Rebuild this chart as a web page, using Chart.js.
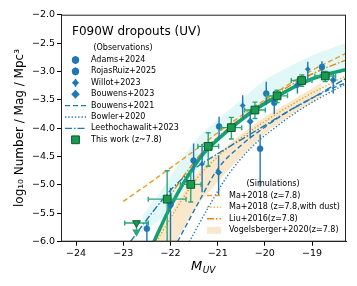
<!DOCTYPE html>
<html>
<head>
<meta charset="utf-8">
<script src="https://cdn.jsdelivr.net/npm/chart.js@4.4.1/dist/chart.umd.min.js"></script>
<style>
html, body { margin: 0; padding: 0; background: #fff; }
#wrap { width: 357px; height: 286px; }
</style>
</head>
<body>
<div id="wrap"><canvas id="c" width="357" height="286"></canvas></div>
<script>
// ===== Axis ticks =====
const xTicks = [-24, -23, -22, -21, -20, -19];
const yTicks = [-6.0, -5.5, -5.0, -4.5, -4.0, -3.5, -3.0, -2.5, -2.0];

// ===== Observations (points) =====
const adamsM = [-22.5, -22.0, -20.1, -19.8];
const adamsY = [-5.77, -5.35, -4.36, -3.55];
const adamsLo = [0.4, 0.7, 0.67, 0.2];
const adamsHi = [0.12, 0.3, 0.25, 0.2];

const rojasM = [-21.51, -20.97, -19.97, -18.79];
const rojasY = [-4.57, -3.97, -3.39, -2.92];
const rojasLo = [0.35, 0.24, 0.2, 0.12];
const rojasHi = [0.3, 0.17, 0.21, 0.1];

const willotM = [-21.33, -20.47, -19.09];
const willotY = [-4.63, -3.6, -2.96];
const willotLo = [0.5, 0.23, 0.18];
const willotHi = [0.35, 0.18, 0.13];

const bouw23M = [-20.98, -20.31, -19.31, -18.55];
const bouw23Y = [-4.78, -3.88, -3.24, -3.15];
const bouw23Lo = [0.4, 0.3, 0.15, 0.24];
const bouw23Hi = [0.3, 0.2, 0.12, 0.12];

// ===== Observations (fits) =====
const bouw21M = [-21.85, -21.4, -21.0, -20.5, -20.0, -19.5, -19.0, -18.5, -18.28];
const bouw21Y = [-6.0, -5.3, -4.72, -4.3, -3.98, -3.7, -3.47, -3.27, -3.2];
const bowlerM = [-21.6, -21.2, -20.8, -20.3, -19.8, -19.3, -18.8, -18.28];
const bowlerY = [-6.0, -5.4, -4.85, -4.35, -4.0, -3.7, -3.45, -3.22];
const leethoM = [-22.85, -22.4, -21.95, -21.5, -21.0, -20.5, -20.0, -19.5, -19.0, -18.28];
const leethoY = [-6.0, -5.5, -5.05, -4.72, -4.45, -4.2, -3.95, -3.7, -3.47, -3.12];

// ===== This work =====
const thisM = [-22.07, -21.57, -21.2, -20.71, -20.21, -19.74, -19.22, -18.72];
const thisY = [-5.25, -4.99, -4.32, -3.99, -3.68, -3.43, -3.16, -3.08];
const thisXerr = [0.4, 0.22, 0.22, 0.22, 0.22, 0.22, 0.22, 0.22];
const thisLo = [0.9, 0.31, 0.35, 0.2, 0.15, 0.12, 0.1, 0.1];
const thisHi = [0.5, 0.22, 0.24, 0.18, 0.14, 0.1, 0.1, 0.08];
const limM = [-22.72];
const limY = [-5.67];
const limXerr = [0.25];
const fitM = [-22.35, -22.1, -21.85, -21.6, -21.3, -21.0, -20.6, -20.2, -19.7, -19.2, -18.7, -18.28];
const fitY = [-6.0, -5.55, -5.15, -4.8, -4.45, -4.2, -3.92, -3.67, -3.42, -3.2, -3.05, -2.97];
const cloudM = [-22.6, -22.2, -21.8, -21.4, -21.0, -20.5, -20.0, -19.5, -19.0, -18.28];
const cloudHi = [-5.55, -5.1, -4.6, -4.15, -3.85, -3.5, -3.15, -2.92, -2.72, -2.5];
const cloudLo = [-5.8, -5.6, -5.2, -4.7, -4.3, -3.9, -3.6, -3.35, -3.15, -2.95];

// ===== Simulations =====
const maM = [-23.0, -22.5, -22.0, -21.5, -21.0, -20.5, -20.0, -19.5, -19.0, -18.28];
const maY = [-5.29, -5.0, -4.7, -4.4, -4.08, -3.78, -3.5, -3.23, -2.98, -2.68];
const maDustM = [-22.3, -21.9, -21.5, -21.0, -20.5, -20.0, -19.5, -19.0, -18.5, -18.28];
const maDustY = [-6.0, -5.45, -4.95, -4.5, -4.17, -3.88, -3.62, -3.38, -3.17, -3.08];
const liuM = [-22.05, -21.7, -21.3, -20.8, -20.3, -19.8, -19.3, -18.8, -18.28];
const liuY = [-5.25, -4.82, -4.4, -4.02, -3.7, -3.42, -3.17, -2.97, -2.8];
const vogM = [-22.5, -22.0, -21.5, -21.0, -20.5, -20.0, -19.5, -19.0, -18.8];
const vogHi = [-6.2, -5.5, -4.85, -4.45, -4.1, -3.8, -3.55, -3.3, -3.2];
const vogLo = [-6.6, -6.15, -5.45, -4.95, -4.5, -4.1, -3.8, -3.55, -3.45];

const BLUE = '#1f77b4';
const GREEN = '#14a072';
const ORANGE = '#e89f1c';
const FONT = '"DejaVu Sans"';

const pts = (xs, ys) => xs.map((x, i) => ({ x: x, y: ys[i] }));
const minus = v => String(v).replace('-', '\u2212');

function lineDs(xs, ys, color, width, dash, order, legend) {
    return {
        data: pts(xs, ys), showLine: true, borderColor: color, borderWidth: width,
        borderDash: dash, pointRadius: 0, fill: false, order: order,
        cubicInterpolationMode: 'monotone', legend: legend
    };
}
function pointDs(xs, ys, lo, hi, style, r, order, legend) {
    return {
        data: pts(xs, ys), showLine: false, pointStyle: style, pointRadius: r,
        backgroundColor: BLUE, borderColor: BLUE, borderWidth: 0.5, order: order,
        err: { lo: lo, hi: hi, color: BLUE, cap: 0 }, legend: legend
    };
}

const datasets = [
    { data: pts(thisM, thisY), showLine: false, pointStyle: 'rect', pointRadius: 5.5,
      backgroundColor: '#1a9a52', borderColor: '#0a5a2c', borderWidth: 1, order: 0,
      err: { lo: thisLo, hi: thisHi, xerr: thisXerr, color: '#2aa878', cap: 2.5 },
      legend: { box: 'obs', row: 7, label: 'This work (z~7.8)' } },
    { data: pts(limM, limY), showLine: false, pointStyle: 'triangle', rotation: 180, pointRadius: 4.5,
      backgroundColor: '#1a9a52', borderColor: '#0a5a2c', borderWidth: 1, order: 1,
      err: { xerr: limXerr, color: '#2aa878', cap: 2.5, arrow: 0.2 } },
    pointDs(adamsM, adamsY, adamsLo, adamsHi, 'circle', 3, 2, { box: 'obs', row: 0, label: 'Adams+2024' }),
    pointDs(rojasM, rojasY, rojasLo, rojasHi, 'circle', 3, 3, { box: 'obs', row: 1, label: 'RojasRuiz+2025' }),
    pointDs(willotM, willotY, willotLo, willotHi, 'rectRot', 2.6, 4, { box: 'obs', row: 2, label: 'Willot+2023' }),
    pointDs(bouw23M, bouw23Y, bouw23Lo, bouw23Hi, 'rectRot', 3.3, 5, { box: 'obs', row: 3, label: 'Bouwens+2023' }),
    lineDs(fitM, fitY, GREEN, 3.5, [], 6),
    lineDs(bouw21M, bouw21Y, BLUE, 1.4, [5, 3], 7, { box: 'obs', row: 4, label: 'Bouwens+2021' }),
    lineDs(bowlerM, bowlerY, BLUE, 1.4, [1.3, 2], 8, { box: 'obs', row: 5, label: 'Bowler+2020' }),
    lineDs(leethoM, leethoY, BLUE, 1.4, [7, 2, 1.5, 2], 9, { box: 'obs', row: 6, label: 'Leethochawalit+2023' }),
    lineDs(maM, maY, ORANGE, 1.4, [5, 3], 10, { box: 'sim', row: 0, label: 'Ma+2018 (z=7.8)' }),
    lineDs(maDustM, maDustY, ORANGE, 1.4, [1.3, 2], 11, { box: 'sim', row: 1, label: 'Ma+2018 (z=7.8,with dust)' }),
    lineDs(liuM, liuY, '#e0890c', 1.4, [7, 2, 1.5, 2], 12, { box: 'sim', row: 2, label: 'Liu+2016(z=7.8)' }),
    { data: pts(vogM, vogHi), showLine: true, borderWidth: 0, pointRadius: 0, fill: '+1',
      backgroundColor: 'rgba(245,216,170,0.6)', order: 13, cubicInterpolationMode: 'monotone',
      legend: { box: 'sim', row: 3, label: 'Vogelsberger+2020(z=7.8)', patch: true } },
    { data: pts(vogM, vogLo), showLine: true, borderWidth: 0, pointRadius: 0, fill: false, order: 14,
      cubicInterpolationMode: 'monotone' },
    { data: pts(cloudM, cloudHi), showLine: true, borderWidth: 0, pointRadius: 0, fill: '+1',
      backgroundColor: 'rgba(150,225,225,0.28)', order: 15, cubicInterpolationMode: 'monotone' },
    { data: pts(cloudM, cloudLo), showLine: true, borderWidth: 0, pointRadius: 0, fill: false, order: 16,
      cubicInterpolationMode: 'monotone' }
];

// ===== Error bars =====
const errorBars = {
    id: 'errorBars',
    beforeDatasetDraw(chart, args) {
        const ds = chart.data.datasets[args.index];
        const e = ds.err;
        if (!e) return;
        const xs = chart.scales.x, ys = chart.scales.y, ctx = chart.ctx, a = chart.chartArea;
        ctx.save();
        ctx.beginPath();
        ctx.rect(a.left, a.top, a.right - a.left, a.bottom - a.top);
        ctx.clip();
        ctx.strokeStyle = e.color;
        ctx.fillStyle = e.color;
        ctx.lineWidth = 1.4;
        ds.data.forEach((p, i) => {
            const px = xs.getPixelForValue(p.x), py = ys.getPixelForValue(p.y);
            ctx.beginPath();
            if (e.xerr) {
                const x0 = xs.getPixelForValue(p.x - e.xerr[i]), x1 = xs.getPixelForValue(p.x + e.xerr[i]);
                ctx.moveTo(x0, py); ctx.lineTo(x1, py);
                if (e.cap) {
                    ctx.moveTo(x0, py - e.cap); ctx.lineTo(x0, py + e.cap);
                    ctx.moveTo(x1, py - e.cap); ctx.lineTo(x1, py + e.cap);
                }
            }
            if (e.lo) {
                const y0 = ys.getPixelForValue(p.y - e.lo[i]), y1 = ys.getPixelForValue(p.y + e.hi[i]);
                ctx.moveTo(px, y0); ctx.lineTo(px, y1);
                if (e.cap) {
                    ctx.moveTo(px - e.cap, y0); ctx.lineTo(px + e.cap, y0);
                    ctx.moveTo(px - e.cap, y1); ctx.lineTo(px + e.cap, y1);
                }
            }
            if (e.arrow) {
                const ye = ys.getPixelForValue(p.y - e.arrow);
                ctx.moveTo(px, py); ctx.lineTo(px, ye);
                ctx.stroke();
                ctx.beginPath();
                ctx.moveTo(px - 3, ye - 4); ctx.lineTo(px + 3, ye - 4); ctx.lineTo(px, ye + 1);
                ctx.closePath(); ctx.fill();
            }
            ctx.stroke();
        });
        ctx.restore();
    }
};

// ===== Frame, titles and legends =====
const decor = {
    id: 'decor',
    afterDraw(chart) {
        const ctx = chart.ctx, a = chart.chartArea;
        ctx.save();
        ctx.strokeStyle = '#222';
        ctx.lineWidth = 1;
        ctx.strokeRect(a.left + 0.5, a.top + 0.5, a.right - a.left - 1, a.bottom - a.top - 1);

        ctx.fillStyle = '#000';
        ctx.textBaseline = 'middle';
        ctx.textAlign = 'left';
        ctx.font = 'italic 13px ' + FONT;
        ctx.fillText('M', 191, 267);
        const w = ctx.measureText('M').width;
        ctx.font = 'italic 9px ' + FONT;
        ctx.fillText('UV', 191 + w + 0.5, 271);

        ctx.save();
        ctx.translate(20, 128);
        ctx.rotate(-Math.PI / 2);
        ctx.textAlign = 'center';
        ctx.font = '12px ' + FONT;
        ctx.fillText('log\u2081\u2080 Number / Mag / Mpc\u00b3', 0, 0);
        ctx.restore();

        ctx.font = '12px ' + FONT;
        ctx.fillText('F090W dropouts (UV)', 72, 32);
        ctx.font = '8px ' + FONT;
        ctx.textAlign = 'center';
        ctx.fillText('(Observations)', 123, 48);
        ctx.fillText('(Simulations)', 273, 184);
        ctx.textAlign = 'left';

        chart.data.datasets.forEach(ds => {
            const L = ds.legend;
            if (!L) return;
            const obs = L.box === 'obs';
            const y = obs ? 60 + L.row * 11.4 : 195.5 + L.row * 11.6;
            const tx = obs ? 91 : 229;
            const x0 = obs ? 65 : 207, x1 = obs ? 86 : 221;
            ctx.save();
            if (L.patch) {
                ctx.fillStyle = ds.backgroundColor;
                ctx.fillRect(x0, y - 3.5, x1 - x0, 7);
            } else if (ds.showLine) {
                ctx.strokeStyle = ds.borderColor;
                ctx.lineWidth = ds.borderWidth;
                ctx.setLineDash(ds.borderDash);
                ctx.beginPath();
                ctx.moveTo(x0, y); ctx.lineTo(x1, y);
                ctx.stroke();
            } else {
                const cx = (x0 + x1) / 2;
                if (ds.err && ds.err.cap === 0) {
                    ctx.strokeStyle = ds.borderColor;
                    ctx.lineWidth = 1.4;
                    ctx.beginPath();
                    ctx.moveTo(cx, y - 4); ctx.lineTo(cx, y + 4);
                    ctx.stroke();
                }
                ctx.fillStyle = ds.backgroundColor;
                ctx.strokeStyle = ds.borderColor;
                Chart.helpers.drawPoint(ctx, {
                    pointStyle: ds.pointStyle, radius: ds.pointRadius, rotation: 0,
                    borderWidth: ds.borderWidth
                }, cx, y);
            }
            ctx.restore();
            ctx.fillStyle = '#000';
            ctx.fillText(L.label, tx, y);
        });
        ctx.restore();
    }
};

new Chart(document.getElementById('c'), {
    type: 'scatter',
    data: { datasets: datasets },
    plugins: [errorBars, decor],
    options: {
        responsive: false,
        devicePixelRatio: 1,
        animation: false,
        layout: { padding: { top: 14.7, right: 11, left: 0, bottom: 0 } },
        plugins: {
            legend: { display: false },
            tooltip: { enabled: false },
            filler: { drawTime: 'beforeDatasetsDraw' }
        },
        scales: {
            x: {
                type: 'linear', min: -24.32, max: -18.28,
                afterBuildTicks: s => { s.ticks = xTicks.map(v => ({ value: v })); },
                afterFit: s => { s.height = 44.3; },
                ticks: { color: '#000', padding: 2, font: { family: 'DejaVu Sans', size: 9.5 },
                         callback: v => minus(v) },
                grid: { drawOnChartArea: false, drawTicks: true, tickLength: 4, color: '#000' },
                border: { color: '#222' }
            },
            y: {
                type: 'linear', min: -6, max: -2,
                afterBuildTicks: s => { s.ticks = yTicks.map(v => ({ value: v })); },
                afterFit: s => { s.width = 61; },
                ticks: { color: '#000', padding: 2, font: { family: 'DejaVu Sans', size: 9.5 },
                         callback: v => minus(v.toFixed(1)) },
                grid: { drawOnChartArea: false, drawTicks: true, tickLength: 4, color: '#000' },
                border: { color: '#222' }
            }
        }
    }
});
</script>
</body>
</html>
